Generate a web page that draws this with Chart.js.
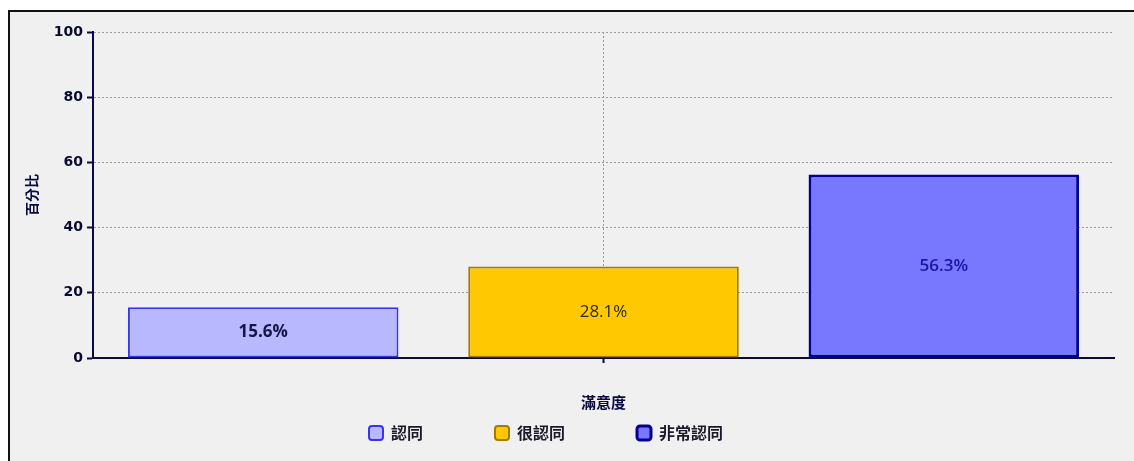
<!DOCTYPE html>
<html>
<head>
<meta charset="utf-8">
<script src="https://cdn.jsdelivr.net/npm/chart.js@4"></script>
<style>
  html, body { margin: 0; padding: 0; background: #fff; overflow: hidden; }
  #frame {
    position: absolute; left: 8px; top: 10px; width: 1140px; height: 470px;
    background: #f0f0f0; border-top: 2px solid #111; border-left: 2px solid #111;
  }
  #wrap { position: absolute; left: 0; top: 0; width: 1124px; height: 449px; }
</style>
</head>
<body>
<div id="frame"><div id="wrap"><canvas id="myChart"></canvas></div></div>
<script>
let categories = [""];
let seriesNames = ["認同", "很認同", "非常認同"];
let seriesValues = [15.6, 28.1, 56.3];
let yTicks = [0, 20, 40, 60, 80, 100];

let fills = ["#b8b8ff", "#ffc800", "#7878ff"];
let borders = ["#3535ee", "#a07c00", "#000096"];
let borderWidths = [2, 2, 3];
let labelColors = ["#15154a", "#2a2a2a", "#1515a8"];
let labelWeights = ["bold", "normal", "600"];
// extra blank room after each legend entry (ideographic spaces)
let legendTrail = ["\u3000\u3000\u3000\u3000", "\u3000\u3000\u3000\u3000", "\u3000\u3000"];

// draws the percentage in the middle of each bar
const barLabels = {
    id: "barLabels",
    afterDatasetsDraw(chart) {
        const ctx = chart.ctx;
        chart.data.datasets.forEach((ds, i) => {
            chart.getDatasetMeta(i).data.forEach((bar, j) => {
                ctx.save();
                ctx.font = labelWeights[i] + " 17px 'Open Sans'";
                ctx.fillStyle = labelColors[i];
                ctx.textAlign = "center";
                ctx.textBaseline = "middle";
                ctx.fillText(ds.data[j].toFixed(1) + "%", bar.x, (bar.y + bar.base) / 2);
                ctx.restore();
            });
        });
    }
};

let myChart = document.getElementById("myChart").getContext("2d");

new Chart(myChart, {
    type: "bar",
    data: {
        labels: categories,
        datasets: seriesNames.map((name, i) => ({
            label: name,
            data: [seriesValues[i]],
            backgroundColor: fills[i],
            borderColor: borders[i],
            borderWidth: borderWidths[i],
            borderSkipped: false,
            categoryPercentage: 1.0,
            barPercentage: 0.795
        }))
    },
    options: {
        responsive: true,
        maintainAspectRatio: false,
        animation: false,
        layout: { padding: { top: 20, right: 20, left: 0, bottom: 10 } },
        scales: {
            x: {
                offset: true,
                grid: {
                    offset: false,
                    color: "#9a9a9a",
                    tickColor: "#0a0a40",
                    tickBorderDash: [10, 0],
                    tickLength: 5,
                    tickWidth: 2,
                    lineWidth: 1
                },
                border: { color: "#0a0a40", width: 2, dash: [2, 2] },
                ticks: { display: false },
                title: {
                    display: true,
                    text: "滿意度",
                    color: "#0a0a40",
                    font: { family: "'Noto Sans CJK TC'", size: 15, weight: "bold" },
                    padding: { top: 30, bottom: 6 }
                }
            },
            y: {
                min: 0,
                max: 100,
                afterBuildTicks: (scale) => { scale.ticks = yTicks.map(v => ({ value: v })); },
                grid: {
                    color: "#9a9a9a",
                    tickColor: "#0a0a40",
                    tickBorderDash: [10, 0],
                    tickLength: 6,
                    tickWidth: 2
                },
                border: { color: "#0a0a40", width: 2, dash: [2, 2] },
                ticks: {
                    color: "#0a0a30",
                    padding: 4,
                    font: { family: "'DejaVu Sans'", size: 14, weight: "bold" }
                },
                title: {
                    display: true,
                    text: "百分比",
                    color: "#0a0a40",
                    font: { family: "'Noto Sans CJK TC'", size: 14, weight: "bold" },
                    padding: { top: 13, bottom: 10 }
                }
            }
        },
        plugins: {
            legend: {
                position: "bottom",
                labels: {
                    color: "#1a1a2a",
                    boxWidth: 14,
                    boxHeight: 14,
                    useBorderRadius: true,
                    borderRadius: 3,
                    padding: 8,
                    font: { family: "'Noto Sans CJK TC'", size: 16, weight: "bold" },
                    generateLabels(chart) {
                        const items = Chart.defaults.plugins.legend.labels.generateLabels(chart);
                        items.forEach((it, i) => { it.text = it.text + legendTrail[i]; });
                        return items;
                    }
                }
            },
            tooltip: { enabled: false }
        }
    },
    plugins: [barLabels]
});
</script>
</body>
</html>
